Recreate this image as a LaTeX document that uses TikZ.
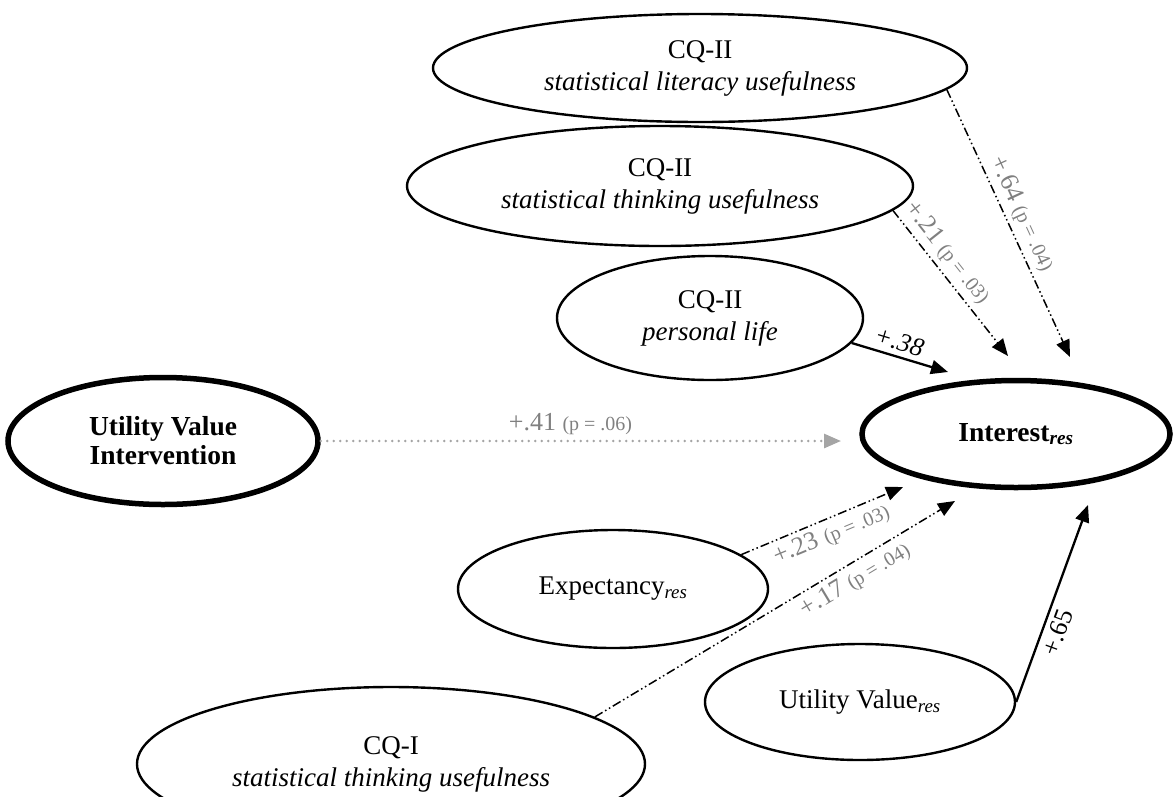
\documentclass[tikz,border=0pt]{standalone}
\usepackage{fontspec}
\setmainfont{Liberation Serif}
\usetikzlibrary{shapes.geometric,arrows.meta}
\definecolor{pgrey}{RGB}{128,128,128}
\definecolor{dotgrey}{RGB}{165,165,165}

\tikzset{
  construct/.style={draw, ellipse, line width=2.4pt, inner xsep=-150pt, inner ysep=-10pt,
    align=center, font=\fontsize{27}{32}\selectfont},
  outcome/.style={construct, line width=5.5pt, font=\fontsize{27.5}{29}\selectfont\bfseries},
  effect/.style={-{Triangle[length=17pt,width=14pt]}, line width=2.3pt},
  trend/.style={effect, line width=1.5pt,
    dash pattern={on 9pt off 3pt on 1.5pt off 3pt on 1.5pt off 3pt}},
  coef/.style={pgrey, font=\fontsize{26}{28}\selectfont, inner sep=5pt},
}
\newcommand{\pval}[1]{{\fontsize{20}{22}\selectfont (p = #1)}}

\begin{document}
\begin{tikzpicture}[x=1pt,y=-1pt]
\useasboundingbox (0,0) rectangle (1173,796);
\clip (0,0) rectangle (1173,796);

% predictors
\node[construct, minimum width=534pt, minimum height=108pt] (lit) at (700,68)
  {CQ-II\\\textit{statistical literacy usefulness}};
\node[construct, minimum width=506pt, minimum height=120pt] (think) at (660,186)
  {CQ-II\\\textit{statistical thinking usefulness}};
\node[construct, minimum width=306pt, minimum height=124pt] (pers) at (710,318)
  {CQ-II\\\textit{personal life}};
\node[outcome, minimum width=310pt, minimum height=127pt] (uvi) at (163,441)
  {Utility Value\\Intervention};
\node[construct, minimum width=310pt, minimum height=118pt] (exp) at (613,589)
  {Expectancy\textsubscript{\textit{res}}};
\node[construct, minimum width=310pt, minimum height=116pt] (uvr) at (860,702)
  {Utility Value\textsubscript{\textit{res}}};
\node[construct, minimum width=508pt, minimum height=154pt] (cqi) at (391,764)
  {CQ-I\\\textit{statistical thinking usefulness}};

% outcome
\node[outcome, minimum width=308pt, minimum height=107pt] (int) at (1016,434)
  {Interest\textsubscript{\textit{res}}};

% arrow tips
\coordinate (tip-lit) at (1070,357);
\coordinate (tip-think) at (1008,356);
\coordinate (tip-pers) at (948,372);
\coordinate (tip-uvi) at (841,441);
\coordinate (tip-exp) at (903,487);
\coordinate (tip-cqi) at (955,501);
\coordinate (tip-uvr) at (1088,505);

% paths
\draw[trend] (lit.-5.5) -- node[coef, sloped, above, pos=0.49] {+.64 \pval{.04}} (tip-lit);
\draw[trend] (think.-6.6) -- node[coef, sloped, above, pos=0.36] {+.21 \pval{.03}} (tip-think);
\draw[effect] (pers.-10) -- node[coef, black, sloped, above, pos=0.45] {\textit{+.38}} (tip-pers);
\draw[dotgrey, line width=2.8pt, line cap=round, dash pattern={on 0pt off 6.5pt},
  -{Triangle[length=17pt,width=14pt,fill=dotgrey]}]
  (uvi) -- node[coef, above, pos=0.48] {+.41 \pval{.06}} (tip-uvi);
\draw[trend] (exp.15.6) -- node[coef, sloped, below, pos=0.52] {+.23 \pval{.03}} (tip-exp);
\draw[trend] (cqi.13) -- node[coef, sloped, below, pos=0.7] {+.17 \pval{.04}} (tip-cqi);
\draw[effect] (uvr.east) -- node[coef, black, sloped, below, pos=0.38] {+.65} (tip-uvr);

\end{tikzpicture}
\end{document}
